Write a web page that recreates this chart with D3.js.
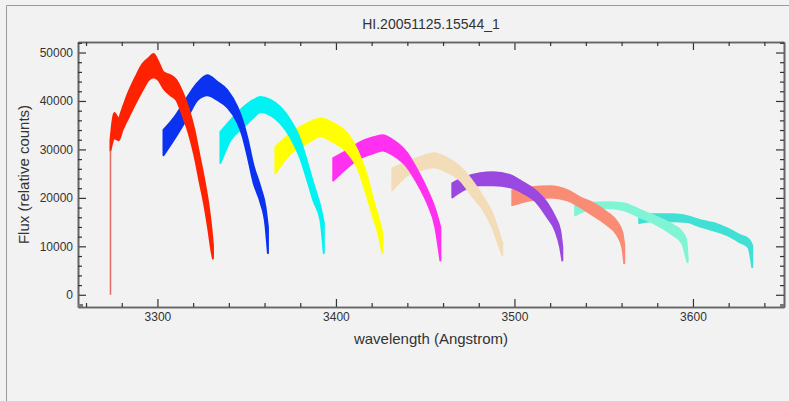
<!DOCTYPE html>
<html>
<head>
	<script src="https://cdn.jsdelivr.net/npm/d3@7"></script>
	<style>
		html, body {
			padding: 0;
			margin: 0;
			background: #f2f2f2;
		}
		text {
			font-family: "Liberation Sans", Arial, Helvetica, sans-serif;
			fill: #333;
		}
	</style>
</head>
<body>
<div id="chart"></div>
<script>
	// echelle orders: wavelength, upper and lower edge of the band
	var redWl  = [3273.7, 3275.9, 3278.2, 3280.4, 3283.8, 3287.7, 3291.6, 3295.0, 3297.8, 3300.6, 3303.4, 3307.3, 3310.6, 3314.0, 3317.4, 3320.7, 3323.5, 3326.3, 3328.6, 3330.2, 3331.1];
	var redHi  = [31900, 37500, 36400, 38500, 41800, 44900, 47600, 48800, 49700, 48000, 45900, 45300, 44300, 41800, 38500, 34000, 28800, 23600, 18500, 13700, 10200];
	var redLo  = [29800, 32300, 31900, 34000, 36600, 39500, 42200, 44300, 44900, 44300, 42600, 41200, 40200, 37100, 33500, 28800, 23600, 18500, 13300, 9200, 7500];
	var spikeWl = [3273.7, 3273.7];
	var spikeFlux = [0, 30000];

	var blueWl = [3303.4, 3309.0, 3316.8, 3322.4, 3328.0, 3333.6, 3339.2, 3344.8, 3347.6, 3350.4, 3353.8, 3357.7, 3360.5, 3361.9];
	var blueHi = [34000, 36400, 40800, 43700, 45300, 43900, 42200, 38700, 36000, 32300, 26700, 22200, 18100, 13900];
	var blueLo = [28800, 31900, 36600, 40200, 41200, 40200, 38700, 35600, 32900, 28800, 23200, 19100, 14400, 8600];

	var cyanWl = [3335.3, 3340.9, 3348.2, 3353.8, 3357.7, 3363.3, 3368.9, 3374.5, 3380.1, 3384.0, 3387.3, 3391.3, 3393.2];
	var cyanHi = [33600, 36000, 38700, 40200, 40800, 40200, 38700, 36000, 31900, 27200, 23000, 18100, 14800];
	var cyanLo = [27200, 31900, 34600, 36600, 37700, 37100, 35400, 32500, 28100, 23600, 19500, 15400, 8600];

	var yellowWl = [3366.1, 3374.5, 3384.0, 3391.3, 3398.5, 3406.4, 3412.0, 3417.6, 3420.9, 3423.7, 3426.0];
	var yellowHi = [30500, 33300, 35400, 36400, 35400, 33300, 29800, 24300, 19500, 16000, 12700];
	var yellowLo = [25100, 29200, 31300, 32700, 31500, 29400, 26300, 20100, 16000, 12700, 8600];

	var magentaWl = [3398.5, 3406.4, 3413.7, 3420.9, 3426.0, 3432.1, 3440.0, 3445.6, 3451.2, 3455.7, 3458.5];
	var magentaHi = [28200, 29800, 31500, 32500, 32900, 31900, 29200, 25700, 21600, 17500, 13900];
	var magentaLo = [23600, 26300, 28200, 29200, 29800, 28800, 26300, 23000, 18900, 13900, 7100];

	var wheatWl = [3431.6, 3440.0, 3447.3, 3454.5, 3462.4, 3469.7, 3476.9, 3482.5, 3487.6, 3490.9, 3493.2];
	var wheatHi = [26100, 27400, 28400, 29200, 28200, 26300, 23200, 20100, 16800, 13300, 10600];
	var wheatLo = [21600, 24700, 25700, 26300, 25300, 23600, 20100, 17500, 13900, 10600, 8200];

	var purpleWl = [3465.2, 3471.3, 3480.8, 3488.1, 3497.6, 3504.9, 3512.8, 3518.4, 3522.8, 3525.6, 3526.8];
	var purpleHi = [23000, 24100, 25100, 25300, 24700, 23200, 21200, 18900, 16000, 13300, 9800];
	var purpleLo = [20100, 21600, 22600, 22600, 22200, 21000, 18900, 16000, 13300, 9800, 7100];

	var salmonWl = [3498.8, 3508.9, 3520.0, 3529.6, 3536.8, 3544.1, 3551.9, 3557.6, 3560.4, 3561.5];
	var salmonHi = [21600, 22200, 22400, 21600, 20100, 18900, 17000, 15000, 12900, 10200];
	var salmonLo = [18500, 19500, 20100, 19500, 18100, 16400, 14400, 12300, 9800, 6500];

	var aquaWl = [3534.0, 3540.8, 3552.0, 3560.9, 3570.4, 3580.0, 3588.9, 3594.0, 3596.2, 3597.0];
	var aquaHi = [18500, 18900, 19100, 18900, 17500, 16000, 14400, 12900, 11300, 7700];
	var aquaLo = [16400, 17500, 17900, 17500, 16000, 14400, 12300, 10600, 7700, 6700];

	var turqWl = [3569.9, 3576.1, 3589.0, 3596.8, 3604.1, 3611.4, 3619.2, 3626.5, 3631.0, 3633.2];
	var turqHi = [16400, 16600, 16600, 16200, 15400, 14800, 13700, 12300, 11500, 10200];
	var turqLo = [14800, 15200, 15200, 15000, 14100, 13300, 12300, 10800, 9800, 5700];

	var xTicks = [3300, 3400, 3500, 3600];
	var yTicks = [0, 10000, 20000, 30000, 40000, 50000];
	var xDomain = [3255.5, 3651];
	var yDomain = [-2520, 52170];

	var orders = [
		{wl: redWl, hi: redHi, lo: redLo, color: "#ff2200"},
		{wl: blueWl, hi: blueHi, lo: blueLo, color: "#0a32f0"},
		{wl: cyanWl, hi: cyanHi, lo: cyanLo, color: "#00f2f2"},
		{wl: yellowWl, hi: yellowHi, lo: yellowLo, color: "#ffff00"},
		{wl: magentaWl, hi: magentaHi, lo: magentaLo, color: "#ff30f0"},
		{wl: wheatWl, hi: wheatHi, lo: wheatLo, color: "#f3dcb8"},
		{wl: purpleWl, hi: purpleHi, lo: purpleLo, color: "#9a48e0"},
		{wl: salmonWl, hi: salmonHi, lo: salmonLo, color: "#fa8c75"},
		{wl: aquaWl, hi: aquaHi, lo: aquaLo, color: "#80f5d5"},
		{wl: turqWl, hi: turqHi, lo: turqLo, color: "#40e0d5"}
	];

	var width = 789, height = 401;
	var plotLeft = 78, plotRight = 784, plotTop = 42, plotBottom = 307;

	var svg = d3.select("#chart").append("svg")
		.attr("width", width)
		.attr("height", height);

	// outer frame
	svg.append("path")
		.attr("d", "M6.5," + height + "V5.5H" + width)
		.attr("fill", "none")
		.attr("stroke", "#9a9a9a");

	var x = d3.scaleLinear().domain(xDomain).range([plotLeft, plotRight]);
	var y = d3.scaleLinear().domain(yDomain).range([plotBottom, plotTop]);

	var plot = svg.append("g");

	var area = d3.area()
		.x(function(d) { return x(d.wl); })
		.y0(function(d) { return y(d.lo); })
		.y1(function(d) { return y(d.hi); })
		.curve(d3.curveMonotoneX);

	// draw the later orders first so the earlier ones sit on top
	orders.slice().reverse().forEach(function(o) {
		var pts = o.wl.map(function(w, i) { return {wl: w, hi: o.hi[i], lo: o.lo[i]}; });
		plot.append("path")
			.datum(pts)
			.attr("d", area)
			.attr("fill", o.color)
			.attr("stroke", o.color)
			.attr("stroke-width", 2)
			.attr("stroke-linejoin", "round");
	});

	// the single spike at the start of the red order
	plot.append("line")
		.attr("x1", x(spikeWl[0])).attr("x2", x(spikeWl[1]))
		.attr("y1", y(spikeFlux[0])).attr("y2", y(spikeFlux[1]))
		.attr("stroke", "#e04a40")
		.attr("stroke-opacity", 0.8)
		.attr("stroke-width", 1.5);

	var axisColor = "#666";
	var xMinor = d3.range(3260, 3651, 20).filter(function(v) { return xTicks.indexOf(v) < 0; });
	var yMinor = d3.range(-2000, 52001, 2000).filter(function(v) { return yTicks.indexOf(v) < 0; });

	function styleAxis(g) {
		g.select(".domain").attr("stroke", axisColor).attr("stroke-width", 1.6);
		g.selectAll(".tick line").attr("stroke", "#333").attr("stroke-width", 1.2);
		g.selectAll(".tick text").attr("fill", "#333").style("font-size", "12px");
	}

	svg.append("g")
		.attr("transform", "translate(0," + plotBottom + ")")
		.call(d3.axisBottom(x).tickValues(xTicks).tickSize(-8).tickSizeOuter(0).tickPadding(5).tickFormat(d3.format("d")))
		.call(styleAxis);
	svg.append("g")
		.attr("transform", "translate(0," + plotBottom + ")")
		.call(d3.axisBottom(x).tickValues(xMinor).tickSize(-4).tickSizeOuter(0).tickFormat(""))
		.call(styleAxis);
	svg.append("g")
		.attr("transform", "translate(0," + plotTop + ")")
		.call(d3.axisTop(x).tickValues(xTicks).tickSize(-8).tickSizeOuter(0).tickFormat(""))
		.call(styleAxis);
	svg.append("g")
		.attr("transform", "translate(0," + plotTop + ")")
		.call(d3.axisTop(x).tickValues(xMinor).tickSize(-4).tickSizeOuter(0).tickFormat(""))
		.call(styleAxis);

	svg.append("g")
		.attr("transform", "translate(" + plotLeft + ",0)")
		.call(d3.axisLeft(y).tickValues(yTicks).tickSize(-8).tickSizeOuter(0).tickPadding(5).tickFormat(d3.format("d")))
		.call(styleAxis);
	svg.append("g")
		.attr("transform", "translate(" + plotLeft + ",0)")
		.call(d3.axisLeft(y).tickValues(yMinor).tickSize(-4).tickSizeOuter(0).tickFormat(""))
		.call(styleAxis);
	svg.append("g")
		.attr("transform", "translate(" + plotRight + ",0)")
		.call(d3.axisRight(y).tickValues(yTicks).tickSize(-8).tickSizeOuter(0).tickFormat(""))
		.call(styleAxis);
	svg.append("g")
		.attr("transform", "translate(" + plotRight + ",0)")
		.call(d3.axisRight(y).tickValues(yMinor).tickSize(-4).tickSizeOuter(0).tickFormat(""))
		.call(styleAxis);

	// little corner marks the original plot leaves at the bottom
	svg.append("rect").attr("x", plotLeft).attr("y", plotBottom - 3).attr("width", 5).attr("height", 3).attr("fill", "#777");
	svg.append("rect").attr("x", plotRight - 4).attr("y", plotBottom - 3).attr("width", 4).attr("height", 3).attr("fill", "#777");

	svg.append("text")
		.attr("x", (plotLeft + plotRight) / 2)
		.attr("y", 29)
		.attr("text-anchor", "middle")
		.style("font-size", "14px")
		.text("HI.20051125.15544_1");

	svg.append("text")
		.attr("x", (plotLeft + plotRight) / 2)
		.attr("y", 344)
		.attr("text-anchor", "middle")
		.style("font-size", "15px")
		.text("wavelength (Angstrom)");

	svg.append("text")
		.attr("transform", "translate(29," + (plotTop + plotBottom) / 2 + ") rotate(-90)")
		.attr("text-anchor", "middle")
		.style("font-size", "15px")
		.text("Flux (relative counts)");
</script>
</body>
</html>
